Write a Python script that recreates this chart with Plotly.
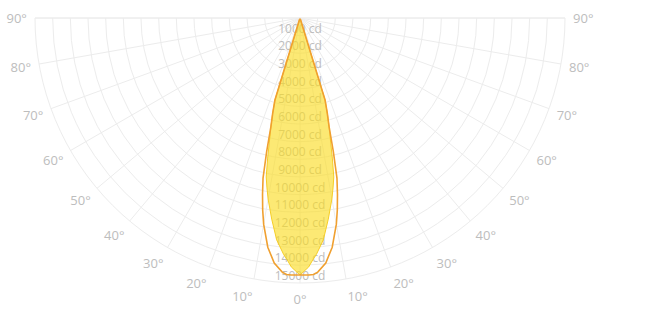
import plotly.graph_objects as go

# Angles (degrees from nadir) and luminous intensities (cd)
ANGLES = [0, 2, 3, 4, 6, 8, 10, 11, 12, 13, 14, 15, 16, 17, 18, 30, 45, 60, 75, 90]
PLANE_A = [14550, 14100, 13720, 13400, 12630, 11500, 10400, 9800, 9200, 8140, 7120, 6360, 5610, 4850,
           0, 0, 0, 0, 0, 0]
PLANE_B = [14550, 14560, 14540, 14420, 13950, 13100, 11850, 11070, 10200, 9300, 7800, 6360, 5610, 4850,
           0, 0, 0, 0, 0, 0]
RING_VALUES = list(range(1000, 16000, 1000))
RING_LABELS = [f"{v} cd" for v in RING_VALUES]
ANGLE_TICKS = [270, 280, 290, 300, 310, 320, 330, 340, 350, 360, 370, 380, 390, 400, 410, 420, 430, 440, 450]
ANGLE_LABELS = ["90°", "80°", "70°", "60°", "50°", "40°", "30°", "20°", "10°", "0°",
                "10°", "20°", "30°", "40°", "50°", "60°", "70°", "80°", "90°"]


def mirror(angles, values):
    th = [-a for a in reversed(angles)] + angles[1:]
    r = list(reversed(values)) + values[1:]
    return th, r


thA, rA = mirror(ANGLES, PLANE_A)
thB, rB = mirror(ANGLES, PLANE_B)

GRID = "#ececec"

fig = go.Figure()
fig.add_trace(go.Scatterpolar(
    r=RING_VALUES, theta=[0] * len(RING_VALUES), mode="text", text=RING_LABELS,
    textposition="top center",
    textfont=dict(family="Open Sans", size=12, color="#bdbdbd"),
    hoverinfo="skip", showlegend=False, cliponaxis=False))
fig.add_trace(go.Scatterpolar(
    r=rA, theta=thA, mode="lines", fill="toself",
    fillcolor="rgba(250,220,30,0.62)", line=dict(color="rgba(245,205,40,1)", width=1),
    showlegend=False))
fig.add_trace(go.Scatterpolar(
    r=rB, theta=thB, mode="lines",
    line=dict(color="#F0A030", width=1.6), showlegend=False))

fig.update_layout(
    width=653, height=320,
    margin=dict(l=35, r=88, t=18, b=37),
    paper_bgcolor="white", plot_bgcolor="white",
    showlegend=False,
    polar=dict(
        bgcolor="white",
        sector=[180, 360],
        radialaxis=dict(range=[0, 15000], tickmode="array", tickvals=RING_VALUES,
                        showticklabels=False, ticks="", showline=False,
                        gridcolor=GRID, gridwidth=1),
        angularaxis=dict(rotation=270, direction="counterclockwise", thetaunit="degrees",
                         tickmode="array", tickvals=ANGLE_TICKS, ticktext=ANGLE_LABELS,
                         ticks="outside", ticklen=5, tickcolor="rgba(0,0,0,0)",
                         showline=True, linecolor=GRID, linewidth=1,
                         showgrid=True, gridcolor=GRID, gridwidth=1,
                         tickfont=dict(family="Open Sans", size=13, color="#bdbdbd")),
    ),
)

fig.write_html("out.html")
